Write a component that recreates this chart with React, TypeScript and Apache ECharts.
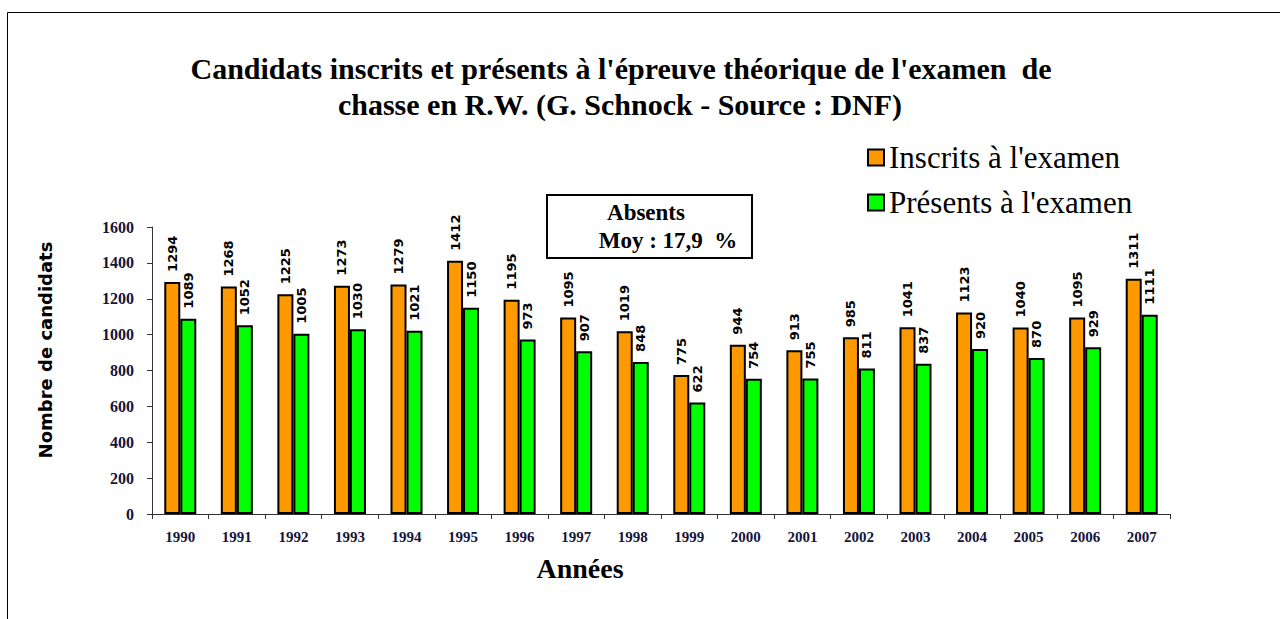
import React, { useEffect, useRef } from "react";
import * as echarts from "echarts";

const years = ["1990","1991","1992","1993","1994","1995","1996","1997","1998","1999","2000","2001","2002","2003","2004","2005","2006","2007"];
const inscrits = [1294,1268,1225,1273,1279,1412,1195,1095,1019,775,944,913,985,1041,1123,1040,1095,1311];
const presents = [1089,1052,1005,1030,1021,1150,973,907,848,622,754,755,811,837,920,870,929,1111];
const titleLines = ["Candidats inscrits et présents à l'épreuve théorique de l'examen  de", "chasse en R.W. (G. Schnock - Source : DNF)"];

const SERIF = "'Liberation Serif', 'Times New Roman', serif";
const SANS = "'DejaVu Sans', sans-serif";

export default function App() {
  const ref = useRef<HTMLDivElement>(null);
  useEffect(() => {
    if (!ref.current) return;
    const chart = echarts.init(ref.current, null, { renderer: "svg" });
    const barLabel = {
      show: true,
      position: "top",
      rotate: 90,
      align: "left",
      verticalAlign: "middle",
      distance: 10,
      fontFamily: SANS,
      fontWeight: "bold",
      fontSize: 13,
      color: "#000",
    };
    chart.setOption({
      animation: false,
      backgroundColor: "#fff",
      grid: { left: 152, right: 110, top: 227, bottom: 105, containLabel: false },
      legend: {
        orient: "vertical",
        left: 862,
        top: 137,
        itemWidth: 16,
        itemHeight: 16,
        itemGap: 14,
        icon: "rect",
        textStyle: { fontFamily: SERIF, fontSize: 31, color: "#000" },
        data: ["Inscrits à l'examen", "Présents à l'examen"],
      },
      xAxis: {
        type: "category",
        data: years,
        axisLine: { lineStyle: { color: "#333", width: 1 } },
        axisTick: { show: true, length: 5, lineStyle: { color: "#333" } },
        axisLabel: { margin: 15, fontFamily: SERIF, fontWeight: "bold", fontSize: 15, color: "#14143c" },
      },
      yAxis: {
        type: "value",
        min: 0,
        max: 1600,
        interval: 200,
        axisLine: { show: true, lineStyle: { color: "#333", width: 1 } },
        axisTick: { show: true, length: 5, lineStyle: { color: "#333" } },
        splitLine: { show: false },
        axisLabel: { margin: 18, formatter: (v: number) => String(v), fontFamily: SERIF, fontWeight: "bold", fontSize: 16, color: "#14143c" },
      },
      series: [
        {
          name: "Inscrits à l'examen",
          type: "bar",
          data: inscrits,
          barWidth: 16,
          barGap: "0%",
          itemStyle: { color: "#FF9900", borderColor: "#000", borderWidth: 2 },
          label: barLabel,
        },
        {
          name: "Présents à l'examen",
          type: "bar",
          data: presents,
          barWidth: 16,
          barGap: "0%",
          itemStyle: { color: "#00FF00", borderColor: "#000", borderWidth: 2 },
          label: barLabel,
        },
      ],
      graphic: [
        { type: "rect", x: 7.5, y: 12.5, shape: { width: 1300, height: 700 }, style: { fill: "none", stroke: "#000", lineWidth: 1 }, silent: true },
        { type: "text", x: 621, y: 68, style: { text: titleLines[0], textAlign: "center", textVerticalAlign: "middle", fontFamily: SERIF, fontWeight: "bold", fontSize: 30, fill: "#000" } },
        { type: "text", x: 620, y: 104, style: { text: titleLines[1], textAlign: "center", textVerticalAlign: "middle", fontFamily: SERIF, fontWeight: "bold", fontSize: 30, fill: "#000" } },
        { type: "text", x: 45, y: 350, rotation: Math.PI / 2, style: { text: "Nombre de candidats", textAlign: "center", textVerticalAlign: "middle", fontFamily: SANS, fontWeight: "bold", fontSize: 18, fill: "#000" } },
        { type: "rect", x: 547, y: 195, shape: { width: 205, height: 63 }, style: { fill: "#fff", stroke: "#000", lineWidth: 2 } },
        { type: "text", x: 646, y: 212, style: { text: "Absents", textAlign: "center", textVerticalAlign: "middle", fontFamily: SERIF, fontWeight: "bold", fontSize: 23, fill: "#000" } },
        { type: "text", x: 668, y: 240, style: { text: "Moy : 17,9  %", textAlign: "center", textVerticalAlign: "middle", fontFamily: SERIF, fontWeight: "bold", fontSize: 23, fill: "#000" } },
        { type: "text", x: 580, y: 568, style: { text: "Années", textAlign: "center", textVerticalAlign: "middle", fontFamily: SERIF, fontWeight: "bold", fontSize: 28, fill: "#000" } },
      ],
    });
    return () => chart.dispose();
  }, []);
  return <div ref={ref} style={{ position: "absolute", left: 0, top: 0, width: 1280, height: 619 }} />;
}
